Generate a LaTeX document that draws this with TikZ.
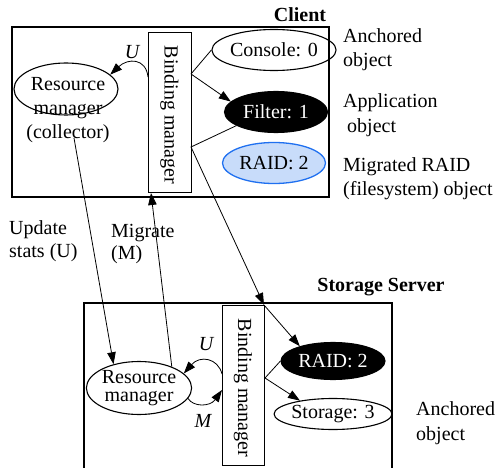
\documentclass[tikz,border=0pt]{standalone}
\usepackage{fontspec}
\setmainfont{Liberation Serif}
\usetikzlibrary{shapes.geometric,arrows.meta}
\definecolor{raidfill}{HTML}{C8DCFA}
\definecolor{raidline}{HTML}{1F70F0}
\begin{document}
\begin{tikzpicture}[x=1pt,y=-1pt,
  every node/.style={font=\fontsize{20}{24}\selectfont, inner sep=0pt},
  box/.style={draw, line width=1.5pt},
  obj/.style={ellipse, draw, line width=1.1pt},
  blk/.style={obj, fill=black, text=white},
  arr/.style={-{Triangle[length=12pt,width=8.5pt]}, line width=0.8pt},
  ln/.style={line width=0.8pt},
  bmgr/.style={draw, line width=1pt},
  lbl/.style={anchor=west, align=left, font=\fontsize{20}{24.5}\selectfont},
  ttl/.style={font=\fontsize{20}{24}\selectfont\bfseries}]
\useasboundingbox (0,0) rectangle (498,468);

% ---------- Client ----------
\node[box, minimum width=317pt, minimum height=170pt] (client) at (170.5,112) {};
\node[ttl] (clientlbl) at (300,15) {Client};
\node[bmgr, minimum width=43pt, minimum height=159pt] (bmc) at (169.5,112.5) {};
\node[rotate=-90] (bmct) at (169.5,115) {Binding manager};
\node[obj, minimum width=104pt, minimum height=52pt] (rmc) at (66,89) {};
\node[align=center] (rmct) at (68,110) {Resource\\manager\\(collector)};
\node[obj, minimum width=104pt, minimum height=41pt] (con) at (274,50) {Console: 0};
\node[blk, minimum width=103pt, minimum height=41pt] (fil) at (276,112) {Filter: 1};
\node[obj, fill=raidfill, draw=raidline, line width=1.3pt, minimum width=103pt, minimum height=41pt] (raidc) at (274,163) {RAID: 2};

\node[lbl] (l1) at (343,49.5) {Anchored\\object};
\node[lbl] (l2) at (343,115) {Application\\\hspace{4pt}object};
\node[lbl] (l3) at (343,178.5) {Migrated RAID\\(filesystem) object};

\node[anchor=west, align=left, font=\fontsize{20}{22.5}\selectfont] (upd) at (9,241) {Update\\stats (U)};
\node[anchor=west, align=left, font=\fontsize{20}{22.5}\selectfont] (mig) at (111,244) {Migrate\\(M)};

% ---------- Storage Server ----------
\draw[line width=1.5pt] (84,475) |- (392,303) -- (392,475);
\node[ttl] (srvlbl) at (381,287) {Storage Server};
\node[bmgr, minimum width=42pt, minimum height=160pt] (bms) at (243,385) {};
\node[rotate=-90] (bmst) at (243,388) {Binding manager};
\node[obj, minimum width=98pt, minimum height=53pt, align=center, font=\fontsize{20}{18.5}\selectfont] (rms) at (139,388) {Resource\\manager};
\node[blk, minimum width=104pt, minimum height=37pt] (raids) at (333,361) {RAID: 2};
\node[obj, minimum width=98pt, minimum height=31pt] (sto) at (333,414) {Storage: 3};
\node[lbl] (l4) at (416,423) {Anchored\\object};

\node (uc) at (132,52) {\itshape U};
\node (us) at (206,344) {\itshape U};
\node (ms) at (203,421) {\itshape M};

% ---------- connection points ----------
\coordinate (bmcR1) at (191,74);
\coordinate (bmcR2) at (191,147);
\coordinate (bmcL) at (148,77);
\coordinate (bmcB) at (151,193);
\coordinate (collB) at (74,138);
\coordinate (bmsTR) at (264,305);
\coordinate (bmsR) at (265,378);
\coordinate (bmsL1) at (222,374);
\coordinate (bmsL2) at (222,390);

% ---------- connectors ----------
\draw[ln] (bmcR1) -- (con.west);
\draw[arr] (bmcR1) -- (fil.167);
\draw[arr] (bmcL) .. controls (146,58) and (128,58) .. (rmc.18);
\draw[arr] (fil.199) -- (bmcR2) -- (bmsTR);
\draw[arr] (bmsTR) -- (raids.156);
\draw[arr] (raids.west) -- (bmsR) -- (sto.158);
\draw[arr] (collB) -- (rms.137);
\draw[arr] (rms.33) -- (bmcB);
\draw[arr] (bmsL1) .. controls (218,358) and (200,355) .. (rms.18);
\draw[arr] (rms.-12) .. controls (193,407) and (210,407) .. (bmsL2);
\end{tikzpicture}
\end{document}
